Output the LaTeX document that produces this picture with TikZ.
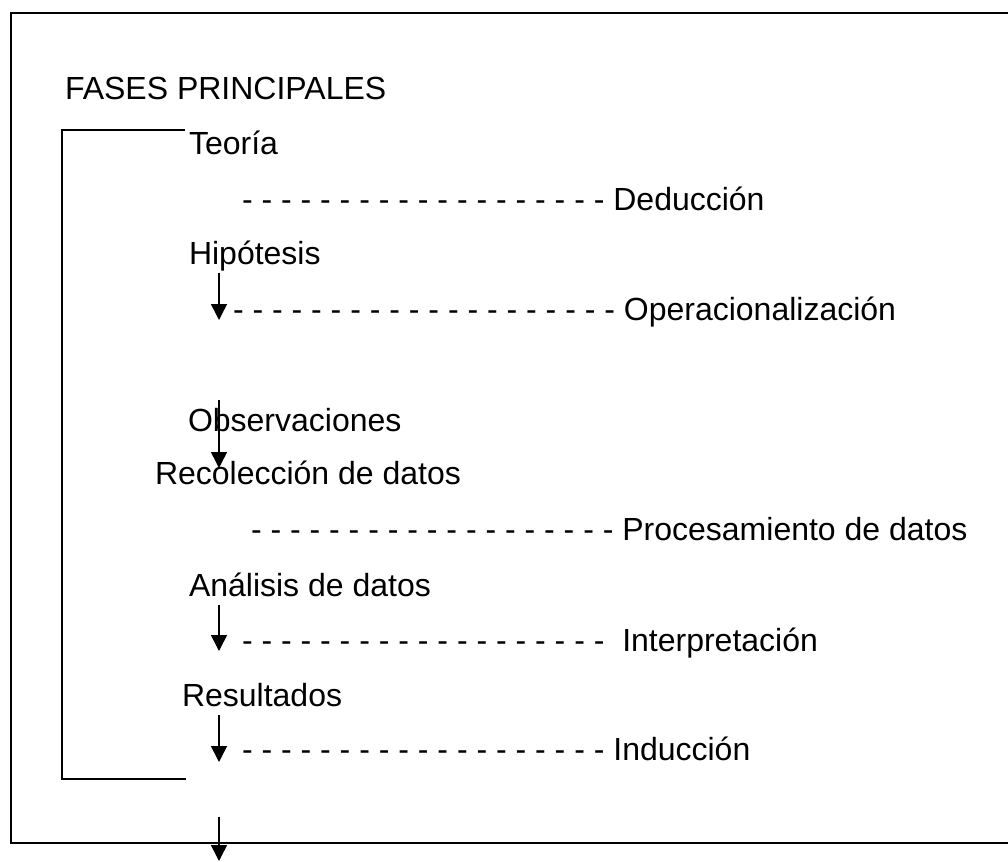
\documentclass[tikz,border=0pt]{standalone}
\usepackage{fontspec}
\setmainfont{Liberation Sans}
\usetikzlibrary{arrows.meta}
\tikzset{
  lbl/.style={anchor=base west, inner sep=0pt, outer sep=0pt, font=\fontsize{32}{38}\selectfont},
  frameline/.style={line width=2.7pt},
  bracketline/.style={line width=1.5pt},
  downarrow/.style={line width=1.5pt, -{Triangle[width=16pt,length=16pt]}}
}
\begin{document}
\begin{tikzpicture}[x=1pt,y=-1pt]
\useasboundingbox (0,0) rectangle (1008,861);
% outer frame (right side cut off)
\draw[frameline] (1008,13) -- (11,13) -- (11,843) -- (1008,843);
% bracket
\draw[bracketline] (185,130) -- (62,130) -- (62,779) -- (186,779);
% texts
\node[lbl] (titulo) at (65,99.5) {FASES PRINCIPALES};
\node[lbl] (teoria) at (189,154.5) {Teoría};
\node[lbl] (deduccion) at (242,210) {- - - - - - - - - - - - - - - - - - - Deducción};
\node[lbl] (hipotesis) at (189,264.5) {Hipótesis};
\node[lbl] (operac) at (233,320.5) {- - - - - - - - - - - - - - - - - - - - Operacionalización};
\node[lbl] (observ) at (188,431.5) {Observaciones};
\node[lbl] (recoleccion) at (155,484.5) {Recolección de datos};
\node[lbl] (procesam) at (251,540) {- - - - - - - - - - - - - - - - - - - Procesamiento de datos};
\node[lbl] (analisis) at (189,596.5) {Análisis de datos};
\node[lbl] (interp) at (242,651) {- - - - - - - - - - - - - - - - - - -\ \ Interpretación};
\node[lbl] (resultados) at (182,706.5) {Resultados};
\node[lbl] (induccion) at (242,760) {- - - - - - - - - - - - - - - - - - - Inducción};
% arrow end points
\coordinate (a1s) at (219,273);
\coordinate (a1e) at (219,320);
\coordinate (a2s) at (219,400);
\coordinate (a2e) at (219,468);
\coordinate (a3s) at (219,605);
\coordinate (a3e) at (219,651);
\coordinate (a4s) at (219,715);
\coordinate (a4e) at (219,762);
\coordinate (a5s) at (219,817);
\coordinate (a5e) at (219,861);
\draw[downarrow] (a1s) -- (a1e);
\draw[downarrow] (a2s) -- (a2e);
\draw[downarrow] (a3s) -- (a3e);
\draw[downarrow] (a4s) -- (a4e);
\draw[downarrow] (a5s) -- (a5e);
\end{tikzpicture}
\end{document}
